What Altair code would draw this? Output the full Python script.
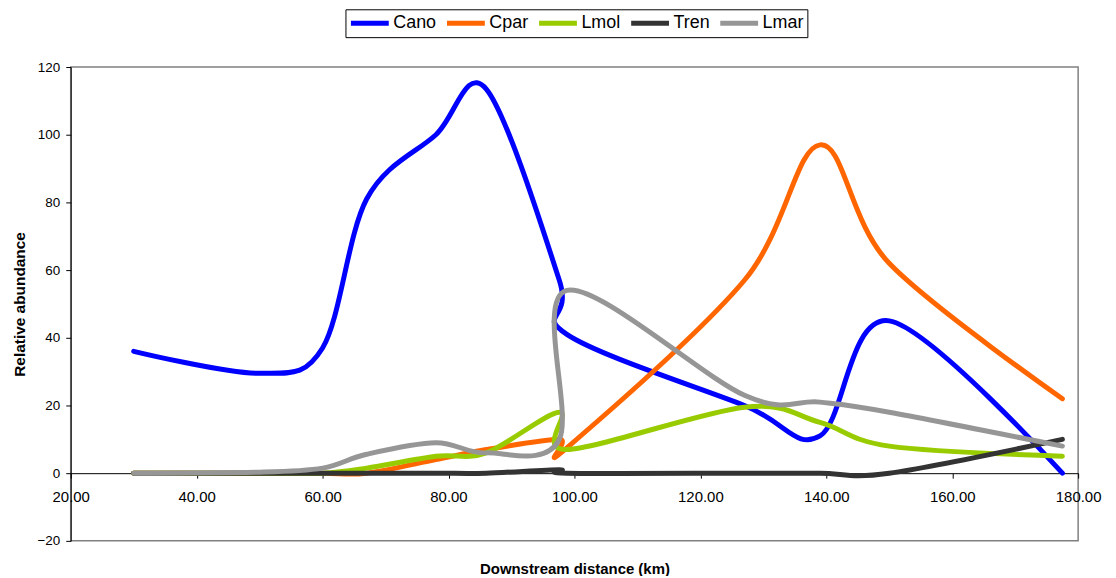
import altair as alt
import pandas as pd

distance = [30, 50, 60, 67, 78, 86, 97.6, 98.8, 127, 139, 150, 177.5]
cano = [36, 29.5, 37, 81, 100, 113.5, 57, 41, 20, 11, 45, 0]
cpar = [0, 0, 0, 0, 4, 7, 10, 7.5, 57, 97, 62, 22]
lmol = [0, 0, 0, 1.5, 5, 6, 18, 7, 19.5, 15, 8, 5]
tren = [0, 0, 0, 0, 0, 0, 1, 0, 0, 0, 0, 10]
lmar = [0, 0.3, 1.5, 5.6, 9, 6, 10, 54, 23, 21, 18, 8]

series_names = ["Cano", "Cpar", "Lmol", "Tren", "Lmar"]
series_values = [cano, cpar, lmol, tren, lmar]
series_colors = ["#0000FF", "#FF6600", "#99CC00", "#333333", "#969696"]

x_ticks = [20, 40, 60, 80, 100, 120, 140, 160, 180]
y_ticks = [-20, 0, 20, 40, 60, 80, 100, 120]

rows = []
for name, vals in zip(series_names, series_values):
    for i, (d, v) in enumerate(zip(distance, vals)):
        rows.append({"series": name, "distance": d, "value": v, "idx": i})
df = pd.DataFrame(rows)

FONT = "Liberation Sans"

x_enc = alt.X(
    "distance:Q",
    scale=alt.Scale(domain=[20, 180], nice=False, zero=False),
    axis=alt.Axis(
        values=x_ticks, format=".2f", offset=-68, labelFlush=False,
        title="Downstream distance (km)", titleY=101, titleBaseline="alphabetic",
        labelPadding=11, labelFontSize=15, titleFontSize=15,
    ),
)
y_enc = alt.Y(
    "value:Q",
    scale=alt.Scale(domain=[-20, 120], nice=False, zero=False),
    axis=alt.Axis(values=y_ticks, title="Relative abundance", titleX=-51,
                  titleBaseline="middle", labelPadding=6, labelFontSize=13.5,
                  labelFlush=False, titleFontSize=15.5),
)
color_enc = alt.Color(
    "series:N",
    scale=alt.Scale(domain=series_names, range=series_colors),
    sort=series_names,
    legend=alt.Legend(
        title=None, orient="none", legendX=276, legendY=-58, direction="horizontal",
        strokeColor="black", fillColor="white", padding=3,
        symbolType="stroke", symbolSize=1444, symbolStrokeWidth=5,
        clipHeight=22,
        labelFontSize=18, labelFont=FONT, labelColor="black",
        columnPadding=7.5, labelOffset=2,
    ),
)

layers = []
for name in series_names:
    layers.append(
        alt.Chart(df)
        .transform_filter(alt.datum.series == name)
        .mark_line(interpolate="cardinal", tension=0, strokeWidth=5,
                   strokeCap="round", strokeJoin="round")
        .encode(x=x_enc, y=y_enc, color=color_enc, order="idx:Q")
    )

chart = (
    alt.layer(*layers)
    .properties(
        width=1012, height=476,
        autosize=alt.AutoSizeParams(type="none"),
        padding={"left": 63, "top": 58, "right": 30, "bottom": 34},
    )
    .configure_view(stroke="#808080", strokeWidth=1.5)
    .configure_axis(
        grid=False, domainColor="black", tickColor="black", tickSize=5,
        labelFont=FONT, labelColor="black",
        titleFont=FONT, titleFontWeight="bold", titleColor="black",
    )
)

chart.save("out.html", embed_options={"renderer": "svg", "actions": False})
